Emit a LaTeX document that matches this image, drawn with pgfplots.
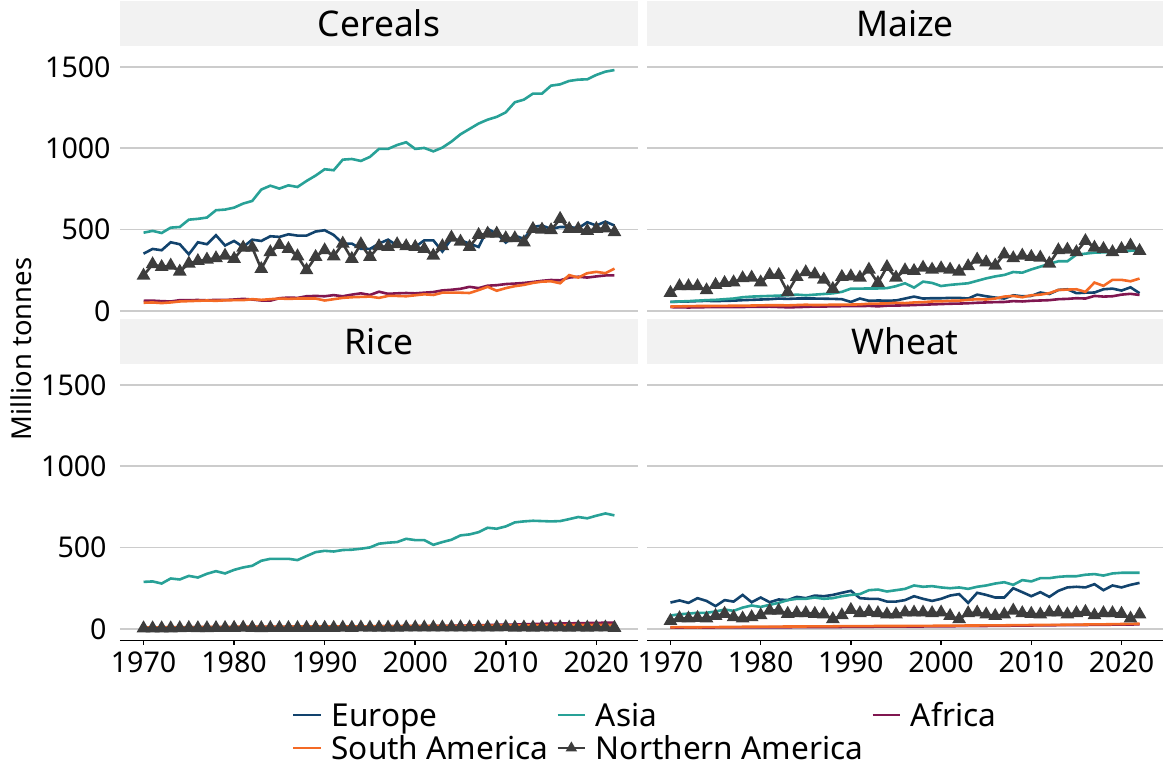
\documentclass[border=0pt]{standalone}
\usepackage{fontspec}
\setmainfont{Noto Sans}
\usepackage{pgfplots}
\usepackage{pgfplotstable}
\pgfplotsset{compat=1.18}
\definecolor{ceu}{HTML}{12436D}
\definecolor{cas}{HTML}{28A197}
\definecolor{caf}{HTML}{801650}
\definecolor{csa}{HTML}{F46A25}
\definecolor{cna}{HTML}{3D3D3D}
\definecolor{strip}{HTML}{F2F2F2}
\definecolor{gridc}{HTML}{CCCCCC}

\pgfplotstableread{
year eu as af sa na
1970 352 481 62 50 217
1971 381 492 63 52 287
1972 373 479 60 48 270
1973 422 512 58 52 279
1974 410 516 66 58 242
1975 348 561 66 60 291
1976 422 566 67 62 307
1977 410 574 65 64 316
1978 465 619 68 62 324
1979 402 623 67 65 340
1980 430 635 70 66 320
1981 393 660 74 66 389
1982 438 676 70 72 389
1983 430 746 64 68 258
1984 459 770 63 72 361
1985 455 752 78 76 406
1986 471 772 82 74 381
1987 463 762 80 76 336
1988 463 799 90 76 250
1989 488 832 92 76 332
1990 496 871 90 64 373
1991 467 865 97 72 336
1992 414 930 90 80 414
1993 414 934 100 84 320
1994 381 922 108 86 410
1995 381 947 98 88 332
1996 414 996 118 80 398
1997 438 996 105 92 393
1998 402 1020 108 92 410
1999 389 1037 110 90 398
2000 393 996 108 96 393
2001 434 1002 112 102 381
2002 434 981 116 98 340
2003 365 1004 126 112 398
2004 443 1041 130 112 451
2005 434 1086 136 112 426
2006 414 1119 148 110 393
2007 393 1152 140 128 467
2008 504 1176 155 148 475
2009 475 1193 158 124 475
2010 420 1221 165 140 447
2011 463 1283 168 152 447
2012 443 1299 172 160 422
2013 516 1336 178 172 504
2014 525 1336 185 180 500
2015 504 1385 190 182 496
2016 516 1393 188 170 566
2017 516 1414 205 220 504
2018 508 1422 210 205 504
2019 545 1424 205 232 492
2020 525 1451 212 240 504
2021 549 1471 218 232 508
2022 525 1481 218 260 484
}\cereals

\pgfplotstableread{
year eu as af sa na
1970 55 55 23 27 111
1971 57 58 22 28 152
1972 58 60 21 29 152
1973 60 63 22 30 152
1974 62 66 23 30 127
1975 60 68 23 31 160
1976 62 72 24 31 172
1977 63 76 23 32 176
1978 66 84 24 32 201
1979 68 88 25 33 205
1980 70 90 25 34 176
1981 72 92 26 35 221
1982 76 94 24 35 221
1983 74 96 22 34 115
1984 76 100 23 36 209
1985 76 96 25 38 238
1986 76 100 27 36 225
1987 75 104 27 37 193
1988 74 108 28 38 135
1989 72 117 29 38 209
1990 55 137 30 39 213
1991 76 137 29 40 205
1992 62 138 31 44 254
1993 64 138 28 45 172
1994 63 140 32 46 270
1995 64 152 33 50 205
1996 76 170 34 48 250
1997 88 143 36 52 246
1998 76 180 38 54 266
1999 78 172 40 58 254
2000 78 153 42 59 262
2001 80 160 44 62 254
2002 80 165 45 63 242
2003 76 170 47 68 275
2004 100 185 50 72 316
2005 90 200 52 70 299
2006 82 212 54 76 279
2007 76 221 55 88 348
2008 96 239 60 92 324
2009 90 235 58 84 340
2010 92 255 62 96 332
2011 113 272 64 100 328
2012 104 290 66 109 291
2013 129 305 72 129 373
2014 133 305 74 131 377
2015 109 346 78 133 361
2016 112 352 76 117 430
2017 113 358 92 174 389
2018 133 360 88 154 381
2019 137 362 90 191 361
2020 125 366 100 191 381
2021 145 370 105 182 402
2022 109 374 98 199 369
}\maize

\pgfplotstableread{
year eu as af sa na
1970 3.0 289 8 9 4
1971 3.2 292 8 9 4
1972 3.1 279 8 10 4
1973 3.3 310 9 10 4
1974 3.4 304 9 10 5
1975 3.4 326 10 11 6
1976 3.3 316 10 11 5
1977 3.2 339 10 12 5
1978 3.3 355 11 12 6
1979 3.4 341 11 12 6
1980 3.5 363 11 13 7
1981 3.6 378 11 13 8
1982 3.5 388 12 13 7
1983 3.4 419 12 14 5
1984 3.5 431 12 14 6
1985 3.6 431 12 14 6
1986 3.5 431 13 14 6
1987 3.4 423 13 15 6
1988 3.3 448 13 15 7
1989 3.4 472 14 15 7
1990 3.2 480 14 15 7
1991 3.0 476 14 15 7
1992 3.1 485 15 16 8
1993 3.2 487 15 16 7
1994 3.2 493 16 16 9
1995 3.1 501 16 16 8
1996 3.2 524 16 17 8
1997 3.2 530 17 17 8
1998 3.3 534 17 17 8
1999 3.4 554 17 18 9
2000 3.2 546 17 18 9
2001 3.2 546 17 18 9
2002 3.3 517 18 18 9
2003 3.2 534 18 18 9
2004 3.6 548 19 19 10
2005 3.5 575 20 19 10
2006 3.4 581 21 19 9
2007 3.3 595 22 20 9
2008 3.5 622 24 20 9
2009 3.8 616 25 21 10
2010 4.0 630 26 21 11
2011 4.2 655 27 22 8
2012 4.2 661 29 22 9
2013 4.1 665 30 22 8
2014 4.0 663 31 23 10
2015 4.1 661 32 23 9
2016 4.0 663 33 23 10
2017 4.0 675 34 24 8
2018 3.9 688 35 24 10
2019 3.8 680 36 24 8
2020 3.8 696 37 25 10
2021 3.7 710 38 25 9
2022 3.4 698 38 24 7
}\rice

\pgfplotstableread{
year eu as af sa na
1970 162 82 8 10 49
1971 175 90 8 11 66
1972 160 94 8 10 64
1973 189 99 9 10 68
1974 172 99 8 11 64
1975 140 107 9 11 80
1976 177 119 9 12 93
1977 168 111 9 12 72
1978 209 131 9 13 64
1979 164 144 9 13 72
1980 193 135 9 14 84
1981 164 148 10 14 113
1982 181 160 10 14 113
1983 177 177 10 15 93
1984 197 185 11 15 97
1985 189 185 11 15 97
1986 205 193 11 16 93
1987 201 185 12 16 89
1988 209 189 12 16 60
1989 222 201 12 17 84
1990 234 209 13 17 117
1991 189 214 13 17 97
1992 185 238 13 17 105
1993 185 242 14 18 97
1994 168 230 14 18 89
1995 168 238 14 18 89
1996 177 246 15 18 101
1997 201 267 15 19 101
1998 185 259 15 19 101
1999 172 263 16 19 97
2000 185 255 16 20 101
2001 205 250 16 20 80
2002 214 255 17 20 60
2003 160 246 17 21 97
2004 222 259 18 21 101
2005 209 267 18 22 89
2006 193 279 19 22 80
2007 193 287 19 22 89
2008 250 271 20 23 113
2009 226 300 20 23 97
2010 201 292 21 24 93
2011 226 312 22 24 89
2012 197 312 22 25 101
2013 234 320 23 25 101
2014 255 324 23 26 89
2015 259 324 24 26 97
2016 255 333 24 27 105
2017 275 337 25 28 84
2018 238 328 25 28 97
2019 267 341 26 29 97
2020 255 345 26 30 93
2021 271 345 27 31 64
2022 283 345 28 32 89
}\wheat

\pgfplotsset{
  panel/.style={
    scale only axis, width=#1, height=132.3pt,
    xmin=1967.4, xmax=2024.6, ymin=-72, ymax=1555,
    ytick={0,500,1000,1500},
    ymajorgrids, grid style={gridc, line width=0.9pt},
    axis y line*=left, y axis line style={draw=none}, ytick style={draw=none},
    axis x line*=bottom,
    tick label style={font=\fontsize{14.3}{16}\selectfont, black},
    /pgf/number format/assume math mode=true,
    /pgf/number format/1000 sep={},
    yticklabel style={inner sep=0pt, xshift=-4.5pt},
    title style={at={(0.5,1)}, anchor=south, fill=strip, minimum width=#1,
      minimum height=22.5pt, inner sep=0pt, outer sep=0pt,
      font=\fontsize{17.7}{20}\selectfont},
    clip=false,
  },
  toppanel/.style={xtick=\empty, x axis line style={draw=none}},
  botpanel/.style={xtick={1970,1980,...,2020},
    x axis line style={-, black, line width=0.8pt},
    xtick style={black, line width=0.8pt}, tick align=outside,
    major tick length=2pt,
    xticklabel style={inner sep=0pt, yshift=-3.5pt}},
  noy/.style={yticklabels={}},
  seu/.style={ceu, line width=1.3pt},
  sas/.style={cas, line width=1.3pt},
  saf/.style={caf, line width=1.3pt},
  ssa/.style={csa, line width=1.3pt},
  sna/.style={cna, line width=1.3pt, mark=triangle*, mark size=2.7pt, mark options={solid, fill=cna}},
}

\begin{document}
\begin{tikzpicture}
\useasboundingbox (0,0) rectangle (581.5pt,-383.5pt);

\begin{axis}[panel=259pt, toppanel, at={(60pt,-29pt)}, anchor=north west, title={Cereals}]
\addplot[seu] table[x=year,y=eu]{\cereals};
\addplot[sas] table[x=year,y=as]{\cereals};
\addplot[saf] table[x=year,y=af]{\cereals};
\addplot[ssa] table[x=year,y=sa]{\cereals};
\addplot[sna] table[x=year,y=na]{\cereals};
\end{axis}

\begin{axis}[panel=258pt, toppanel, noy, at={(323.5pt,-29pt)}, anchor=north west, title={Maize}]
\addplot[seu] table[x=year,y=eu]{\maize};
\addplot[sas] table[x=year,y=as]{\maize};
\addplot[saf] table[x=year,y=af]{\maize};
\addplot[ssa] table[x=year,y=sa]{\maize};
\addplot[sna] table[x=year,y=na]{\maize};
\end{axis}

\begin{axis}[panel=259pt, botpanel, at={(60pt,-188pt)}, anchor=north west, title={Rice},
  legend columns=3,
  legend cell align=left,
  legend style={at={(0.332,-0.2245)}, anchor=north west, draw=none, fill=none,
    inner sep=0pt, outer sep=0pt, font=\fontsize{15.8}{18}\selectfont,
    nodes={inner ysep=0pt, text height=13pt, text depth=2pt},
    /tikz/every even column/.append style={column sep=2pt},
    row sep=1.5pt},
  legend image code/.code={\draw[mark repeat=2, mark phase=2, mark size=2pt, #1] plot coordinates {(0pt,0pt) (6.85pt,0pt) (13.7pt,0pt)}; \path (16.5pt,0pt);},
]
\addplot[seu] table[x=year,y=eu]{\rice};
\addplot[sas] table[x=year,y=as]{\rice};
\addplot[saf] table[x=year,y=af]{\rice};
\addplot[ssa] table[x=year,y=sa]{\rice};
\addplot[sna] table[x=year,y=na]{\rice};
\legend{Europe, Asia, Africa, South America, Northern America}
\end{axis}

\begin{axis}[panel=258pt, botpanel, noy, at={(323.5pt,-188pt)}, anchor=north west, title={Wheat}]
\addplot[seu] table[x=year,y=eu]{\wheat};
\addplot[sas] table[x=year,y=as]{\wheat};
\addplot[saf] table[x=year,y=af]{\wheat};
\addplot[ssa] table[x=year,y=sa]{\wheat};
\addplot[sna] table[x=year,y=na]{\wheat};
\end{axis}

\node[rotate=90, font=\fontsize{13.7}{16}\selectfont] at (10.5pt,-174.5pt) {Million tonnes};
\end{tikzpicture}
\end{document}
